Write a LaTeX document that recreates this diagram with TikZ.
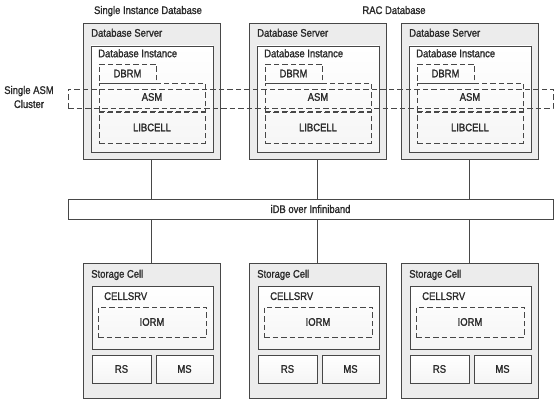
\documentclass[tikz,border=0pt]{standalone}
\usepackage{fontspec}
\setmainfont{Liberation Sans}[FakeStretch=0.86, FakeBold=1.3]
\usepackage{tikz}
\pgfdeclarelayer{bg}
\pgfsetlayers{bg,main}
\definecolor{boxline}{HTML}{474747}
\definecolor{outerfill}{HTML}{ECECEC}
\definecolor{innerfill}{HTML}{F5F5F5}
\definecolor{txt}{HTML}{2A2A2A}
\tikzset{
        outerbox/.style={draw=boxline, fill=outerfill, line width=0.9pt, inner sep=0pt, minimum width=137pt, minimum height=136pt},
        innerbox/.style={draw=boxline, top color=white, bottom color=innerfill, line width=0.9pt, inner sep=0pt},
        dashbox/.style={draw=boxline, line width=0.8pt, dash pattern=on 5.5pt off 3pt, inner sep=0pt},
        tl/.style={anchor=north west, inner sep=0pt, xshift=8.5pt, yshift=-6pt},
        tlin/.style={anchor=north west, inner sep=0pt, xshift=7.5pt, yshift=-3.5pt},
        conn/.style={draw=boxline, line width=0.9pt},
}

\begin{document}
\begin{tikzpicture}[x=1pt, y=-1pt, font=\fontsize{11}{14}\selectfont, text=txt]
        \useasboundingbox (0,0) rectangle (558,404);
        % titles
        \node (t1) [anchor=base, inner sep=0pt] at (148, 14) {Single Instance Database};
        \node (t2) [anchor=base, inner sep=0pt] at (394, 14) {RAC Database};
        \node (lc) [align=center, inner sep=0pt] at (29, 97) {Single ASM\\Cluster};
        % database servers
        \node (srv1) [outerbox, label={[tl]north west:Database Server}] at (151.5, 91) {};
        \node (srv2) [outerbox, label={[tl]north west:Database Server}] at (317.5, 91) {};
        \node (srv3) [outerbox, label={[tl]north west:Database Server}] at (469.5, 91) {};
        \node (ins1) [innerbox, minimum width=122pt, minimum height=106pt, label={[tlin]north west:Database Instance}] at (152, 99) {};
        \node (ins2) [innerbox, minimum width=122pt, minimum height=106pt, label={[tlin]north west:Database Instance}] at (318, 99) {};
        \node (ins3) [innerbox, minimum width=122pt, minimum height=106pt, label={[tlin]north west:Database Instance}] at (470, 99) {};
        \node (dbrm1) [dashbox, minimum width=57pt, minimum height=19pt] at (127.5, 73.5) {DBRM};
        \node (dbrm2) [dashbox, minimum width=57pt, minimum height=19pt] at (293.5, 73.5) {DBRM};
        \node (dbrm3) [dashbox, minimum width=57pt, minimum height=19pt] at (445.5, 73.5) {DBRM};
        \node (asm1) [dashbox, minimum width=106pt, minimum height=28pt] at (152, 97) {ASM};
        \node (asm2) [dashbox, minimum width=106pt, minimum height=28pt] at (318, 97) {ASM};
        \node (asm3) [dashbox, minimum width=106pt, minimum height=28pt] at (470, 97) {ASM};
        \node (lib1) [dashbox, minimum width=106pt, minimum height=31pt] at (152, 127.5) {LIBCELL};
        \node (lib2) [dashbox, minimum width=106pt, minimum height=31pt] at (318, 127.5) {LIBCELL};
        \node (lib3) [dashbox, minimum width=106pt, minimum height=31pt] at (470, 127.5) {LIBCELL};
        % asm cluster
        \node (clu) [dashbox, minimum width=485pt, minimum height=19pt] at (310.5, 98.5) {};
        % interconnect
        \node (bar) [draw=boxline, fill=white, line width=0.9pt, inner sep=0pt, minimum width=485pt, minimum height=20pt] at (310.5, 209) {iDB over Infiniband};
        % storage cells
        \node (cel1) [outerbox, minimum height=135pt, label={[tl, yshift=-1pt]north west:Storage Cell}] at (151.5, 330.5) {};
        \node (cel2) [outerbox, minimum height=135pt, label={[tl, yshift=-1pt]north west:Storage Cell}] at (317.5, 330.5) {};
        \node (cel3) [outerbox, minimum height=135pt, label={[tl, yshift=-1pt]north west:Storage Cell}] at (469.5, 330.5) {};
        \node (srv1c) [innerbox, minimum width=121pt, minimum height=63pt, label={[tlin, xshift=5pt, yshift=-3pt]north west:CELLSRV}] at (152.5, 317.5) {};
        \node (srv2c) [innerbox, minimum width=121pt, minimum height=63pt, label={[tlin, xshift=5pt, yshift=-3pt]north west:CELLSRV}] at (318.5, 317.5) {};
        \node (srv3c) [innerbox, minimum width=121pt, minimum height=63pt, label={[tlin, xshift=5pt, yshift=-3pt]north west:CELLSRV}] at (470.5, 317.5) {};
        \node (iorm1) [dashbox, minimum width=108pt, minimum height=30pt] at (152, 322) {IORM};
        \node (iorm2) [dashbox, minimum width=108pt, minimum height=30pt] at (318, 322) {IORM};
        \node (iorm3) [dashbox, minimum width=108pt, minimum height=30pt] at (470, 322) {IORM};
        \node (rs1) [innerbox, minimum width=59pt, minimum height=28pt] at (121.5, 369) {RS};
        \node (rs2) [innerbox, minimum width=59pt, minimum height=28pt] at (287.5, 369) {RS};
        \node (rs3) [innerbox, minimum width=59pt, minimum height=28pt] at (439.5, 369) {RS};
        \node (ms1) [innerbox, minimum width=57pt, minimum height=28pt] at (184.5, 369) {MS};
        \node (ms2) [innerbox, minimum width=57pt, minimum height=28pt] at (350.5, 369) {MS};
        \node (ms3) [innerbox, minimum width=57pt, minimum height=28pt] at (502.5, 369) {MS};
        \begin{pgfonlayer}{bg}
                \draw [conn] (srv1.south) -- (srv1.south |- bar.north);
                \draw [conn] (srv2.south) -- (srv2.south |- bar.north);
                \draw [conn] (srv3.south) -- (srv3.south |- bar.north);
                \draw [conn] (bar.south -| cel1.north) -- (cel1.north);
                \draw [conn] (bar.south -| cel2.north) -- (cel2.north);
                \draw [conn] (bar.south -| cel3.north) -- (cel3.north);
        \end{pgfonlayer}
\end{tikzpicture}
\end{document}
